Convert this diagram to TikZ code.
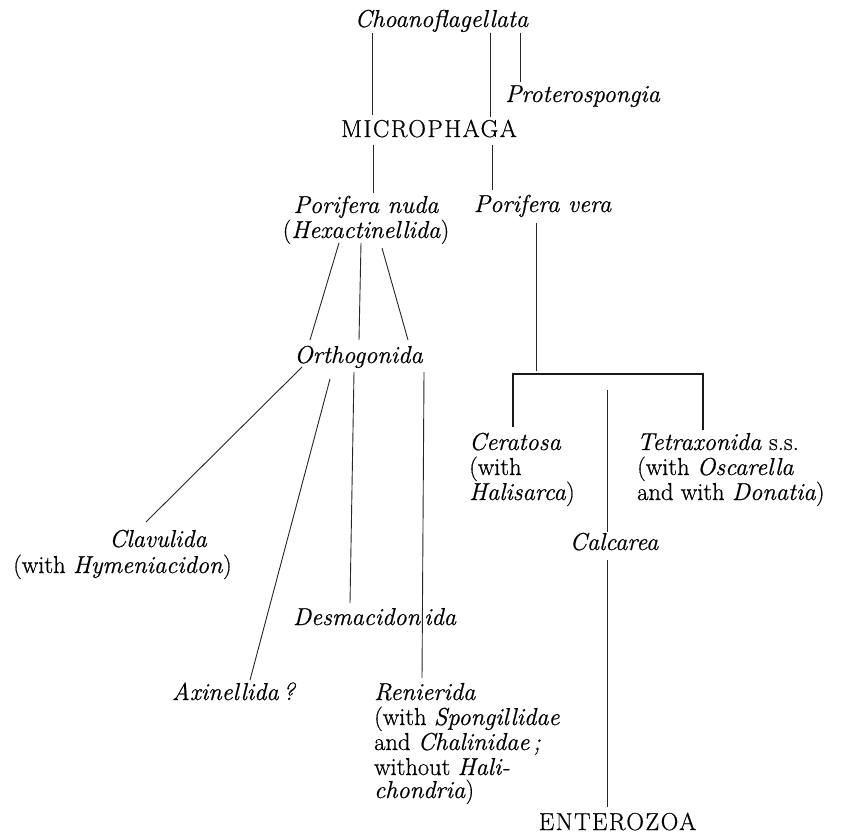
\documentclass[tikz,border=0pt]{standalone}
\usepackage{fontspec}
\setmainfont{Latin Modern Roman}[UprightFeatures={FakeBold=0.6}, ItalicFeatures={FakeBold=0.6}]
\newcommand{\capsp}[1]{{\addfontfeatures{LetterSpace=6}#1}}
\begin{document}
\begin{tikzpicture}[x=1pt,y=-1pt,
  txt/.style={inner sep=0pt, font=\fontsize{24.5}{25}\selectfont},
  itc/.style={txt, anchor=base, font=\fontsize{24.5}{25}\selectfont\itshape},
  rmc/.style={txt, anchor=base},
  lw/.style={txt, anchor=base west},
  conn/.style={line width=0.9pt, black!85},
  bracket/.style={line width=2.2pt, black!90}]
\useasboundingbox (0,0) rectangle (845,837);
\fill[white] (0,0) rectangle (845,837);

% nodes
\node[itc] (choano) at (441.5,27) {Choanoflagellata};
\node[lw]  (protero) at (505,102) {\itshape Proterospongia};
\node[rmc] (micro) at (429,137) {\capsp{MICROPHAGA}};
\node[itc] (pnuda) at (366,213) {Porifera nuda};
\node[rmc] (hexa) at (366,238) {(\textit{Hexactinellida})};
\node[itc] (pvera) at (542.5,212) {Porifera vera};
\node[itc] (ortho) at (358.5,363) {Orthogonida};
\node[itc] (clav1) at (158,547) {Clavulida};
\node[rmc] (clav2) at (122.5,573) {(with \textit{Hymeniacidon})};
\node[itc] (desm) at (374.5,625) {Desmacidon\kern4pt ida};
\node[itc] (axin) at (233.5,700) {Axinellida\,?};
\node[lw] (ren1) at (374,700) {\itshape Renierida};
\node[lw] (ren2) at (374,725) {(with \textit{Spongillidae}};
\node[lw] (ren3) at (374,750) {and \textit{Chalinidae\,;}};
\node[lw] (ren4) at (374,775) {without \textit{Hali-}};
\node[lw] (ren5) at (374,798) {\textit{chondria})};
\node[lw] (cera1) at (469,450) {\itshape Ceratosa};
\node[lw] (cera2) at (469,475) {(with};
\node[lw] (cera3) at (469,500) {\textit{Halisarca})};
\node[lw] (tetra1) at (637,450) {\textit{Tetraxonida} s.s.};
\node[lw] (tetra2) at (637,475) {(with \textit{Oscarella}};
\node[lw] (tetra3) at (637,500) {and with \textit{Donatia})};
\node[itc] (calc) at (614,550) {Calcarea};
\node[rmc] (entero) at (617.5,830) {\capsp{ENTEROZOA}};

\coordinate (junc) at (536,374);
\coordinate (calctop) at (607,390);

% connectors
\draw[conn] ([shift={(-69.5,6)}]choano.base) -- ([shift={(-57,-22)}]micro.base);
\draw[conn] ([shift={(48.5,6)}]choano.base) -- ([shift={(61,-20)}]micro.base);
\draw[conn] ([shift={(78.5,6)}]choano.base) -- ([shift={(15,-20)}]protero.base west);
\draw[conn] ([shift={(-56,8)}]micro.base) -- ([shift={(7,-20)}]pnuda.base);
\draw[conn] ([shift={(63,8)}]micro.base) -- ([shift={(-50.5,-22)}]pvera.base);

\draw[conn] ([shift={(-27,5)}]hexa.base) -- ([shift={(-48.5,-23)}]ortho.base);
\draw[conn] ([shift={(-5,5)}]hexa.base) -- ([shift={(0.5,-23)}]ortho.base);
\draw[conn] ([shift={(16,10)}]hexa.base) -- ([shift={(49.5,-23)}]ortho.base);

\draw[conn] ([shift={(-6.5,11)}]pvera.base) -- ([shift={(0,-3)}]junc);
\draw[bracket] ([shift={(44,-23)}]cera1.base west) -- ++(0,-53) -| ([shift={(66,-20)}]tetra1.base west);

\draw[conn] (calctop) -- ([shift={(-7,-18)}]calc.base);
\draw[conn] ([shift={(-7,10)}]calc.base) -- ([shift={(-10.5,-23)}]entero.base);

\draw[conn] ([shift={(-56.5,4)}]ortho.base) -- ([shift={(-12,-25)}]clav1.base);
\draw[conn] ([shift={(-28.5,16)}]ortho.base) -- ([shift={(16.5,-20)}]axin.base);
\draw[conn] ([shift={(-4.5,9)}]ortho.base) -- ([shift={(-24.5,-22)}]desm.base);
\draw[conn] ([shift={(65.5,9)}]ortho.base) -- ([shift={(48,-22)}]ren1.base west);
\end{tikzpicture}
\end{document}
